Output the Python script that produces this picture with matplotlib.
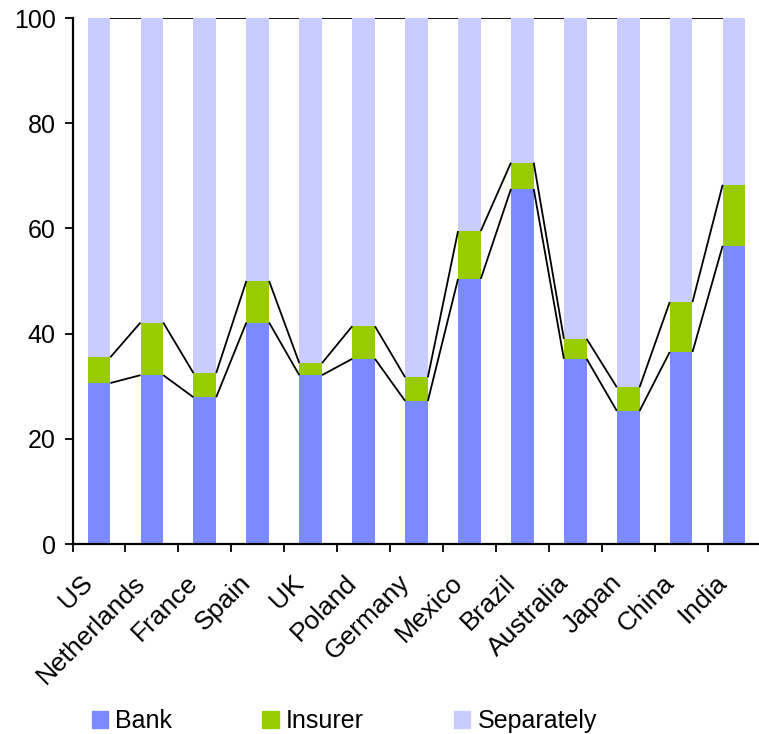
import numpy as np
import matplotlib.pyplot as plt
import matplotlib.transforms as mtransforms
from matplotlib.patches import Patch

plt.rcParams["font.family"] = ["Liberation Sans", "DejaVu Sans"]

countries = ["US", "Netherlands", "France", "Spain", "UK", "Poland", "Germany",
             "Mexico", "Brazil", "Australia", "Japan", "China", "India"]
bank = [30.6, 32.1, 27.9, 42.1, 32.1, 35.2, 27.2, 50.4, 67.5, 35.2, 25.3, 36.5, 56.7]
insurer = [4.9, 10.0, 4.6, 7.9, 2.3, 6.2, 4.5, 9.1, 5.0, 3.8, 4.5, 9.5, 11.6]
separately = [100 - b - i for b, i in zip(bank, insurer)]

c_bank = "#7b8bff"
c_ins = "#99cc00"
c_sep = "#c8ccff"

fig = plt.figure(figsize=(7.59, 7.34), dpi=100)
ax = fig.add_axes([72.5 / 759, 190 / 734, 688 / 759, 526 / 734])

x = np.arange(len(countries))
w = 0.43
bank = np.array(bank)
insurer = np.array(insurer)
separately = np.array(separately)

ax.bar(x, bank, w, color=c_bank, label="Bank", zorder=2)
ax.bar(x, insurer, w, bottom=bank, color=c_ins, label="Insurer", zorder=2)
ax.bar(x, separately, w, bottom=bank + insurer, color=c_sep, label="Separately", zorder=2)

# series lines between bars
levels = [bank, bank + insurer, bank + insurer + separately]
for lev in levels:
    for i in range(len(x) - 1):
        ax.plot([x[i] + w / 2, x[i + 1] - w / 2], [lev[i], lev[i + 1]],
                color="black", lw=1.3, zorder=3, solid_capstyle="butt")

ax.set_xlim(-0.5, len(x) - 0.5)
ax.set_ylim(0, 100)
ax.set_yticks([0, 20, 40, 60, 80, 100])
ax.tick_params(axis="y", labelsize=18, length=6, width=1.3, direction="out", pad=6)

ax.set_xticks(x)
ax.set_xticklabels(countries, rotation=45, ha="right", rotation_mode="anchor", fontsize=19)
ax.tick_params(axis="x", length=0, pad=14)
ax.set_xticks(np.arange(len(x) + 1) - 0.5, minor=True)
ax.tick_params(axis="x", which="minor", length=6, width=1.3, direction="out")

# nudge the rotated labels so their ends sit left of the bar centres
shift = mtransforms.ScaledTranslation(-0.19, -0.07, fig.dpi_scale_trans)
for lab in ax.get_xticklabels():
    lab.set_transform(lab.get_transform() + shift)

for s in ["top", "right"]:
    ax.spines[s].set_visible(False)
for s in ["left", "bottom"]:
    ax.spines[s].set_linewidth(1.6)

handles = [Patch(color=c_bank, label="Bank"),
           Patch(color=c_ins, label="Insurer"),
           Patch(color=c_sep, label="Separately")]
fig.legend(handles=handles, loc="center left", bbox_to_anchor=(69 / 759, 1 - 721 / 734),
           ncol=3, frameon=False, fontsize=18, handlelength=0.65, handleheight=0.65,
           handletextpad=0.3, columnspacing=3.6)

fig.savefig("out.png", dpi=100)
